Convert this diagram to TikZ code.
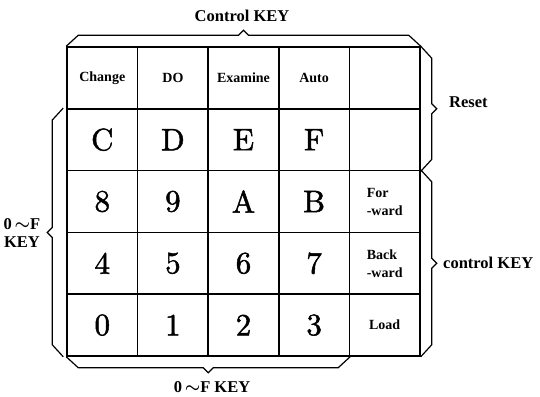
\documentclass[tikz,border=0pt]{standalone}
\usepackage{fontspec}
\usetikzlibrary{calc}

% lettering: heavy serif for captions, emboldened modern roman for the hex digits
\newfontfamily\capfont{Liberation Serif}
\newfontfamily\digitfont[FakeBold=1.5]{lmroman10-regular.otf}

% angular brace from #1 to #2, bulging to the left of the direction #1 -> #2
\newcommand\anglebrace[2]{%
  \draw[bracestyle]
    (#1) -- ($(#1)!12pt!(#2)!11pt!90:(#2)$)
    -- ($(#1)!.5!(#2)!5pt!(#1)!11pt!-90:(#1)$)
    -- ($(#1)!.5!(#2)!16pt!90:(#2)$)
    -- ($(#1)!.5!(#2)!5pt!(#2)!11pt!90:(#2)$)
    -- ($(#2)!12pt!(#1)!11pt!-90:(#1)$)
    -- (#2);}

\newcommand\wave{{\boldmath$\sim$}}

\begin{document}
\begin{tikzpicture}[x=1pt,y=-1pt,
  cellbox/.style={draw, line width=1.5pt, minimum width=70.6pt,
    minimum height=61.8pt, inner sep=0pt},
  hexkey/.style={cellbox, font=\digitfont\fontsize{31}{31}\selectfont},
  cmdkey/.style={cellbox, font=\capfont\bfseries\fontsize{14}{18}\selectfont, align=left},
  bracestyle/.style={line width=1.2pt, line join=miter},
  bracelabel/.style={font=\capfont\bfseries\fontsize{16.5}{18}\selectfont, inner sep=0pt}]

\useasboundingbox (0,0) rectangle (540,396);

% row 1: command keys
\node[cmdkey] (c11) at (102.3,77.9) {Change};
\node[cmdkey] (c12) at (172.9,77.9) {DO};
\node[cmdkey] (c13) at (243.5,77.9) {Examine};
\node[cmdkey] (c14) at (314.1,77.9) {Auto};
\node[cmdkey] (c15) at (384.7,77.9) {};
% row 2
\node[hexkey] (c21) at (102.3,139.7) {C};
\node[hexkey] (c22) at (172.9,139.7) {D};
\node[hexkey] (c23) at (243.5,139.7) {E};
\node[hexkey] (c24) at (314.1,139.7) {F};
\node[cmdkey] (c25) at (384.7,139.7) {};
% row 3
\node[hexkey] (c31) at (102.3,201.5) {8};
\node[hexkey] (c32) at (172.9,201.5) {9};
\node[hexkey] (c33) at (243.5,201.5) {A};
\node[hexkey] (c34) at (314.1,201.5) {B};
\node[cmdkey] (c35) at (384.7,201.5) {For\\-ward};
% row 4
\node[hexkey] (c41) at (102.3,263.3) {4};
\node[hexkey] (c42) at (172.9,263.3) {5};
\node[hexkey] (c43) at (243.5,263.3) {6};
\node[hexkey] (c44) at (314.1,263.3) {7};
\node[cmdkey] (c45) at (384.7,263.3) {Back\\-ward};
% row 5
\node[hexkey] (c51) at (102.3,325.1) {0};
\node[hexkey] (c52) at (172.9,325.1) {1};
\node[hexkey] (c53) at (243.5,325.1) {2};
\node[hexkey] (c54) at (314.1,325.1) {3};
\node[cmdkey] (c55) at (384.7,325.1) {Load};

% braces
\anglebrace{c11.north west}{c15.north east}
\anglebrace{c15.north east}{c25.south east}
\anglebrace{c35.north east}{c55.south east}
\coordinate (lbot) at ([xshift=-3pt]c51.south west);
\coordinate (ltop) at ([xshift=-3pt]c21.north west);
\anglebrace{lbot}{ltop}
\anglebrace{c54.south east}{c51.south west}

% brace labels
\node[bracelabel, anchor=base] (topkey) at (242,22) {Control KEY};
\node[bracelabel, anchor=base west] (reset) at (449,107) {Reset};
\node[bracelabel, anchor=base west] (ctlkey) at (443,268) {control KEY};
\node[bracelabel, align=center] (leftkey) at (22,233) {0\,\wave F\\KEY};
\node[bracelabel, anchor=base] (botkey) at (212,392) {0\,\wave F KEY};
\end{tikzpicture}
\end{document}
